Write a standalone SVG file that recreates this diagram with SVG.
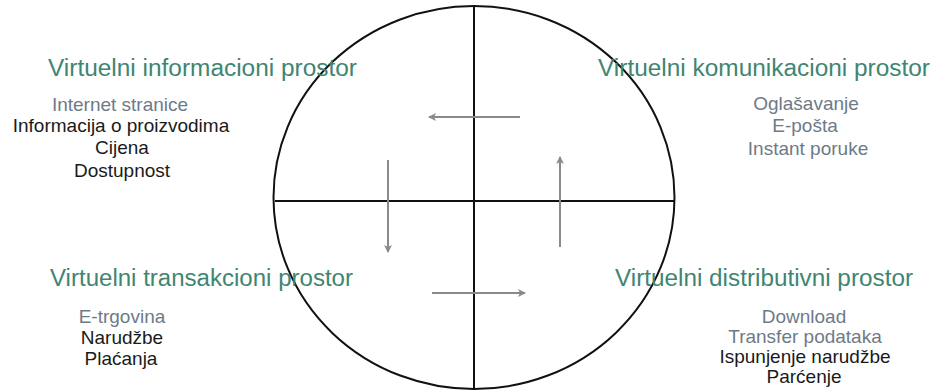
<svg xmlns="http://www.w3.org/2000/svg" width="933" height="391" viewBox="0 0 933 391">
<defs>
<marker id="ah" markerWidth="10" markerHeight="10" refX="7" refY="5" orient="auto" markerUnits="userSpaceOnUse">
<path d="M0,1 L8,5 L0,9 L2,5 Z" fill="#8a8a8a"/>
</marker>
<style>
.frame{fill:none;stroke:#111;stroke-width:2}
.arr{fill:none;stroke:#8a8a8a;stroke-width:2;marker-end:url(#ah)}
.title{font-family:"Liberation Sans",Arial,sans-serif;font-size:23px;fill:#3f8572}
.item{font-family:"Liberation Sans",Arial,sans-serif;font-size:19px;text-anchor:middle}
.gb{fill:#6e7a88}
.bk{fill:#1a1a1a}
</style>
</defs>
<rect width="933" height="391" fill="#fff"/>
<g id="frame">
<ellipse class="frame" cx="474" cy="197.5" rx="200.5" ry="191.5"/>
<line class="frame" x1="275" y1="201" x2="674" y2="201"/>
<line class="frame" x1="474" y1="6" x2="474" y2="389"/>
</g>
<g id="connectors">
<line class="arr" x1="520" y1="117" x2="429" y2="117"/>
<line class="arr" x1="388" y1="160" x2="388" y2="252"/>
<line class="arr" x1="560" y1="247" x2="560" y2="157"/>
<line class="arr" x1="432" y1="293" x2="525" y2="293"/>
</g>
<g id="info">
<text class="title" x="48" y="76" textLength="309" lengthAdjust="spacingAndGlyphs">Virtuelni informacioni prostor</text>
<text class="item gb" x="120" y="111">Internet stranice</text>
<text class="item bk" x="121" y="132">Informacija o proizvodima</text>
<text class="item bk" x="122" y="154">Cijena</text>
<text class="item bk" x="122" y="177">Dostupnost</text>
</g>
<g id="komunikacija">
<text class="title" x="598" y="76" textLength="332" lengthAdjust="spacingAndGlyphs">Virtuelni komunikacioni prostor</text>
<text class="item gb" x="806" y="110">Oglašavanje</text>
<text class="item gb" x="805" y="132">E-pošta</text>
<text class="item gb" x="808" y="155">Instant poruke</text>
</g>
<g id="transakcija">
<text class="title" x="50" y="286" textLength="303" lengthAdjust="spacingAndGlyphs">Virtuelni transakcioni prostor</text>
<text class="item gb" x="122" y="323">E-trgovina</text>
<text class="item bk" x="122" y="344">Narudžbe</text>
<text class="item bk" x="121" y="365">Plaćanja</text>
</g>
<g id="distribucija">
<text class="title" x="615" y="286" textLength="298" lengthAdjust="spacingAndGlyphs">Virtuelni distributivni prostor</text>
<text class="item gb" x="804" y="323">Download</text>
<text class="item gb" x="805" y="343">Transfer podataka</text>
<text class="item bk" x="805" y="363">Ispunjenje narudžbe</text>
<text class="item bk" x="804" y="383">Parćenje</text>
</g>
</svg>
